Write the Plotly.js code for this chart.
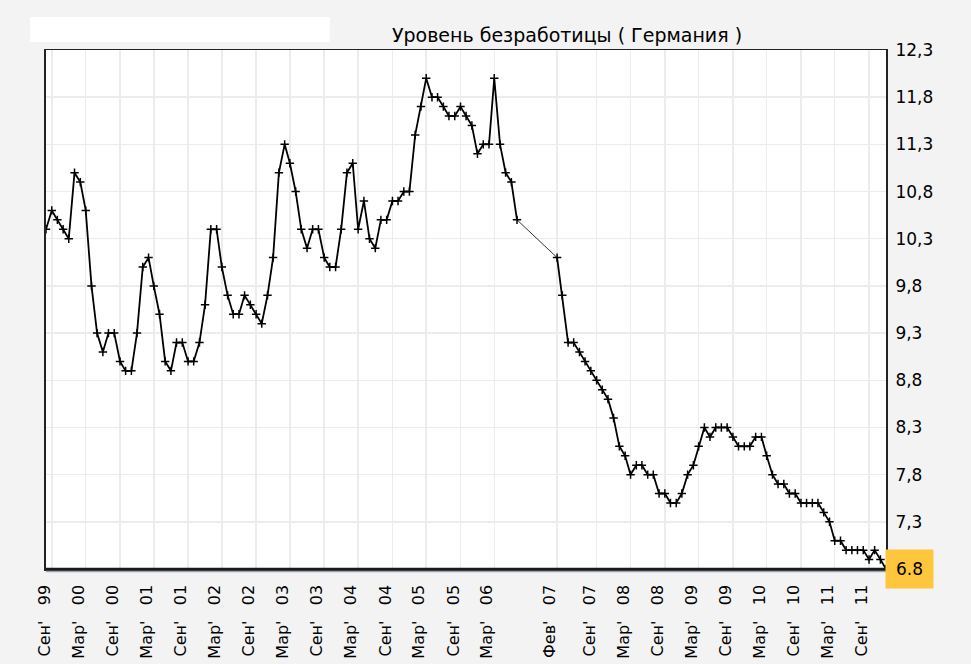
<!DOCTYPE html>
<html>
<head>
<meta charset="utf-8">
<script src="https://cdn.plot.ly/plotly-3.0.1.min.js"></script>
<style>
  html, body { margin: 0; padding: 0; background: #f3f3f3; }
</style>
</head>
<body>
<div id="chart" style="width:971px;height:664px;"></div>
<script>
// monthly unemployment rate, first value = Aug 1999, null = no data
var startYear = 1999;
var startMonth = 8;
var rate = [
  10.4, 10.6, 10.5, 10.4, 10.3,                                   // 1999 Aug-Dec
  11.0, 10.9, 10.6, 9.8, 9.3, 9.1, 9.3, 9.3, 9.0, 8.9, 8.9, 9.3,  // 2000
  10.0, 10.1, 9.8, 9.5, 9.0, 8.9, 9.2, 9.2, 9.0, 9.0, 9.2, 9.6,   // 2001
  10.4, 10.4, 10.0, 9.7, 9.5, 9.5, 9.7, 9.6, 9.5, 9.4, 9.7, 10.1, // 2002
  11.0, 11.3, 11.1, 10.8, 10.4, 10.2, 10.4, 10.4, 10.1, 10.0, 10.0, 10.4, // 2003
  11.0, 11.1, 10.4, 10.7, 10.3, 10.2, 10.5, 10.5, 10.7, 10.7, 10.8, 10.8, // 2004
  11.4, 11.7, 12.0, 11.8, 11.8, 11.7, 11.6, 11.6, 11.7, 11.6, 11.5, 11.2, // 2005
  11.3, 11.3, 12.0, 11.3, 11.0, 10.9, 10.5, null, null, null, null, null, // 2006
  null, 10.1, 9.7, 9.2, 9.2, 9.1, 9.0, 8.9, 8.8, 8.7, 8.6, 8.4,  // 2007
  8.1, 8.0, 7.8, 7.9, 7.9, 7.8, 7.8, 7.6, 7.6, 7.5, 7.5, 7.6,    // 2008
  7.8, 7.9, 8.1, 8.3, 8.2, 8.3, 8.3, 8.3, 8.2, 8.1, 8.1, 8.1,    // 2009
  8.2, 8.2, 8.0, 7.8, 7.7, 7.7, 7.6, 7.6, 7.5, 7.5, 7.5, 7.5,    // 2010
  7.4, 7.3, 7.1, 7.1, 7.0, 7.0, 7.0, 7.0, 6.9, 7.0, 6.9, 6.8     // 2011
];

var tickMonths = ['1999-09', '2000-03', '2000-09', '2001-03', '2001-09', '2002-03', '2002-09',
  '2003-03', '2003-09', '2004-03', '2004-09', '2005-03', '2005-09', '2006-03',
  '2007-02', '2007-09', '2008-03', '2008-09', '2009-03', '2009-09', '2010-03',
  '2010-09', '2011-03', '2011-09'];
var tickText = ["Сен' 99", "Мар' 00", "Сен' 00", "Мар' 01", "Сен' 01", "Мар' 02", "Сен' 02",
  "Мар' 03", "Сен' 03", "Мар' 04", "Сен' 04", "Мар' 05", "Сен' 05", "Мар' 06",
  "Фев' 07", "Сен' 07", "Мар' 08", "Сен' 08", "Мар' 09", "Сен' 09", "Мар' 10",
  "Сен' 10", "Мар' 11", "Сен' 11"];

function monthDate(i){
  var m = startMonth - 1 + i;
  var y = startYear + Math.floor(m / 12);
  var mm = m % 12 + 1;
  return y + '-' + (mm < 10 ? '0' : '') + mm + '-01';
}

var dates = rate.map(function(v, i){ return monthDate(i); });

// thin connector across the missing months
var gapX = [];
var gapY = [];
for (var i = 1; i < rate.length; i++) {
  if (rate[i] === null && rate[i - 1] !== null) {
    var j = i;
    while (j < rate.length && rate[j] === null) j++;
    if (j < rate.length) {
      gapX.push(dates[i - 1], dates[j], null);
      gapY.push(rate[i - 1], rate[j], null);
    }
  }
}

var lastIdx = rate.length - 1;

var main = {
  x: dates,
  y: rate,
  type: 'scatter',
  mode: 'lines+markers',
  connectgaps: false,
  line: {color: '#000', width: 1.8},
  marker: {symbol: 'cross-thin', size: 6, color: '#000', line: {color: '#000', width: 1.5}},
  hoverinfo: 'x+y'
};

var bridge = {
  x: gapX,
  y: gapY,
  type: 'scatter',
  mode: 'lines',
  line: {color: '#000', width: 0.8},
  hoverinfo: 'skip'
};

var font = "DejaVu Sans, Verdana, sans-serif";

var layout = {
  width: 971,
  height: 664,
  margin: {l: 46, r: 85, t: 50, b: 95},
  paper_bgcolor: '#f3f3f3',
  plot_bgcolor: '#ffffff',
  showlegend: false,
  separators: ',.',
  title: {
    text: 'Уровень безработицы ( Германия )',
    font: {family: font, size: 19, color: '#000'},
    xref: 'container', x: 567 / 971, xanchor: 'center',
    yref: 'container', y: 1 - 35 / 664, yanchor: 'middle'
  },
  xaxis: {
    type: 'date',
    range: [dates[0], dates[lastIdx]],
    tickvals: tickMonths.map(function(m){ return m + '-01'; }),
    ticktext: tickText.map(function(t){ return t.replace(' ', '\u00a0\u00a0\u00a0'); }),
    tickangle: -90,
    ticks: '',
    ticklabelstandoff: 8,
    ticklabelshift: -7,
    tickfont: {family: font, size: 16, color: '#000'},
    showgrid: true,
    gridcolor: '#ececec',
    gridwidth: 1.5,
    showline: true,
    mirror: true,
    linecolor: '#222',
    linewidth: 1.5,
    zeroline: false
  },
  yaxis: {
    side: 'right',
    range: [6.8, 12.3],
    tick0: 6.8,
    dtick: 0.5,
    tickformat: '.1f',
    ticks: '',
    ticklabelstandoff: 4,
    tickfont: {family: font, size: 17, color: '#000'},
    showgrid: true,
    gridcolor: '#ececec',
    gridwidth: 1.5,
    showline: true,
    mirror: true,
    linecolor: '#222',
    linewidth: 2,
    zeroline: false
  },
  shapes: [
    {type: 'rect', xref: 'paper', yref: 'paper', x0: -0.019, x1: 0.338, y0: 1.0154, y1: 1.0636,
      fillcolor: '#ffffff', line: {width: 0}},
    {type: 'line', xref: 'paper', yref: 'paper', x0: 0, x1: 1, y0: 0, y1: 0,
      line: {color: '#1a1a1a', width: 2.5}},
    {type: 'line', xref: 'paper', yref: 'paper', ysizemode: 'pixel', yanchor: 0,
      x0: 0, x1: 1, y0: -2.5, y1: -2.5, line: {color: '#9aa4b0', width: 1.5}}
  ],
  annotations: [{
    x: dates[lastIdx], y: rate[lastIdx], xref: 'x', yref: 'y',
    text: String(rate[lastIdx]),
    showarrow: false,
    xanchor: 'left', yanchor: 'middle',
    xshift: -1,
    width: 47, height: 38, borderpad: 0,
    align: 'center', valign: 'middle',
    bgcolor: '#fdc63d',
    font: {family: font, size: 17, color: '#000'}
  }]
};

Plotly.newPlot('chart', [bridge, main], layout, {displaylogo: false, displayModeBar: false, staticPlot: true});
</script>
</body>
</html>
